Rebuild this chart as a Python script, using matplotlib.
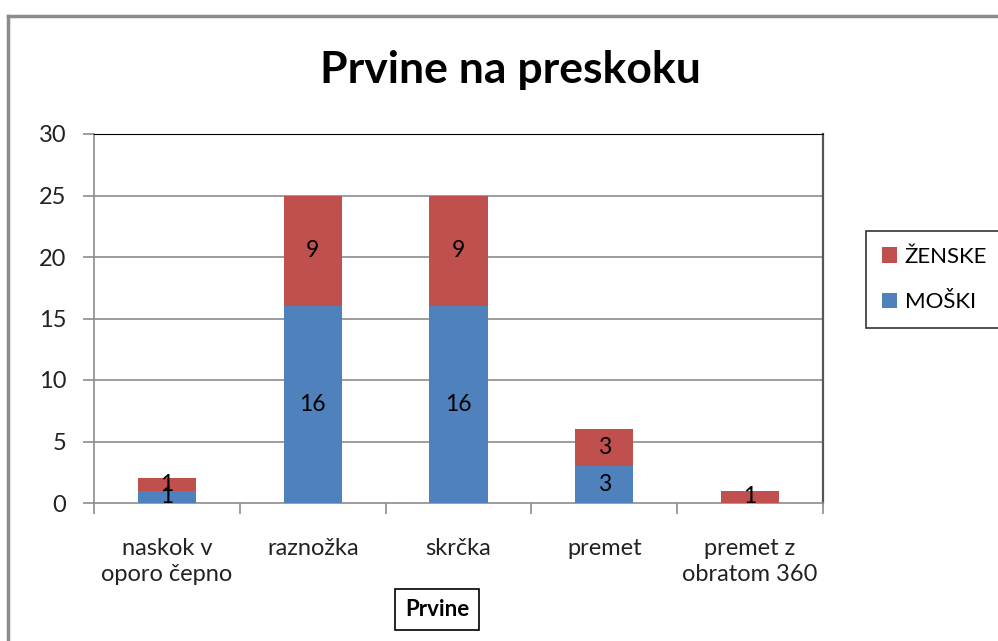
import numpy as np
import matplotlib
matplotlib.use("Agg")
import matplotlib.pyplot as plt
from matplotlib.lines import Line2D

plt.rcParams['font.family'] = ['Lato', 'Open Sans', 'DejaVu Sans']

# Data
categories = ['naskok v\noporo čepno', 'raznožka', 'skrčka', 'premet', 'premet z\nobratom 360']
moski = [1, 16, 16, 3, 0]
zenske = [1, 9, 9, 3, 1]
yticks = [0, 5, 10, 15, 20, 25, 30]

blue = '#4F81BD'
red = '#C0504D'
grid_col = '#8C8C8C'

fig = plt.figure(figsize=(9.98, 6.41), dpi=100)
ax = fig.add_axes([94 / 998, 1 - 503 / 641, 729 / 998, 369 / 641])

x = np.arange(len(categories))
width = 0.40
b1 = ax.bar(x, moski, width, color=blue, label='MOŠKI', zorder=3)
b2 = ax.bar(x, zenske, width, bottom=moski, color=red, label='ŽENSKE', zorder=3)

# data labels, centred in each segment (skip zeros)
for i in range(len(categories)):
    if moski[i] > 0:
        ax.text(x[i], moski[i] / 2, str(moski[i]), ha='center', va='center',
                fontsize=16.5, color='black', zorder=4)
    if zenske[i] > 0:
        ax.text(x[i], moski[i] + zenske[i] / 2, str(zenske[i]), ha='center', va='center',
                fontsize=16.5, color='black', zorder=4)

ax.set_xlim(-0.5, len(categories) - 0.5)
ax.set_ylim(0, 30)
ax.set_yticks(yticks)
ax.set_yticklabels([str(v) for v in yticks], fontsize=17, color='#222222')
for v in yticks[1:-1]:
    ax.axhline(v, color=grid_col, lw=1.2, zorder=1)

# category tick marks at boundaries, labels centred
ax.set_xticks(np.arange(len(categories) + 1) - 0.5)
ax.set_xticklabels([])
ax.set_xticks(x, minor=True)
ax.set_xticklabels(categories, minor=True, fontsize=17, color='#222222', linespacing=1.3)
ax.tick_params(axis='x', which='minor', length=0, pad=25)
ax.tick_params(axis='x', which='major', length=8, color=grid_col, width=1.2)
ax.tick_params(axis='y', length=8, color=grid_col, width=1.2, pad=12)

ax.spines['left'].set_color(grid_col)
ax.spines['bottom'].set_color(grid_col)
ax.spines['left'].set_linewidth(1.2)
ax.spines['bottom'].set_linewidth(1.2)
ax.spines['top'].set_color('black')
ax.spines['right'].set_color('#555555')
ax.spines['right'].set_linewidth(1.6)

fig.text(510 / 998, 1 - 70 / 641, 'Prvine na preskoku', ha='center', va='center',
         fontsize=32, fontweight='bold')

fig.text(437 / 998, 1 - 609 / 641, 'Prvine', ha='center', va='center', fontsize=16,
         fontweight='bold',
         bbox=dict(boxstyle='square,pad=0.45', fc='white', ec='black', lw=1.2))

leg = fig.legend(handles=[b2, b1], loc='upper left', bbox_to_anchor=(866 / 998, 1 - 231 / 641),
                 fontsize=16, frameon=True, fancybox=False, edgecolor='black',
                 handlelength=0.7, handleheight=0.7, handletextpad=0.35,
                 labelspacing=1.15, borderpad=0.7, borderaxespad=0)
leg.get_frame().set_linewidth(1.2)

# outer chart frame
fig.add_artist(Line2D([8 / 998, 8 / 998], [0, 1 - 16 / 641], transform=fig.transFigure,
                      color='#8C8C8C', lw=2.5))
fig.add_artist(Line2D([8 / 998, 1], [1 - 16 / 641, 1 - 16 / 641], transform=fig.transFigure,
                      color='#8C8C8C', lw=2.5))

fig.savefig('out.png', dpi=100)
